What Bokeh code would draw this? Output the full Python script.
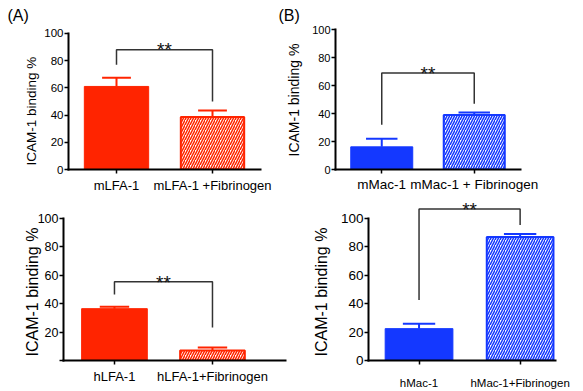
from bokeh.plotting import figure
from bokeh.models import Range1d, FixedTicker, Title
from bokeh.layouts import column, row
from bokeh.embed import file_html
from bokeh.resources import INLINE
from bokeh.core.properties import value

RED = "#ff2400"
BLUE = "#1438ff"
FONT = "Liberation Sans"

y_ticks = [0, 20, 40, 60, 80, 100]
x_pos = [0.5, 1.5]

# Panel A (top-left)
A_labels = ["mLFA-1", "mLFA-1 +Fibrinogen"]
A_values = [61.0, 38.5]
A_err = [67.3, 43.3]
A_bracket = [77.0, 88.0, 50.0]   # left leg bottom, top, right leg bottom

# Panel B (top-right)
B_labels = ["mMac-1", "mMac-1 + Fibrinogen"]
B_values = [16.2, 38.9]
B_err = [22.0, 40.8]
B_bracket = [32.0, 69.0, 47.0]

# Panel C (bottom-left)
C_labels = ["hLFA-1", "hLFA-1+Fibrinogen"]
C_values = [36.5, 7.0]
C_err = [37.8, 9.2]
C_bracket = [46.5, 55.4, 23.3]

# Panel D (bottom-right)
D_labels = ["hMac-1", "hMac-1+Fibrinogen"]
D_values = [22.4, 86.8]
D_err = [25.9, 88.9]
D_bracket = [42.5, 106.5, 95.3]

y_title = "ICAM-1 binding %"


def panel(labels, vals, errs, bracket, color, cfg):
    p = figure(width=cfg["w"], height=cfg["h"],
               x_range=Range1d(*cfg["xr"]), y_range=Range1d(0, cfg["ymax"]),
               output_backend="svg", toolbar_location=None,
               min_border_left=cfg["bl"], min_border_right=cfg["br"],
               min_border_top=cfg["bt"], min_border_bottom=cfg["bb"])
    p.xgrid.visible = False
    p.ygrid.visible = False
    p.outline_line_color = None
    p.background_fill_color = "white"
    p.border_fill_color = "white"

    bw = 0.67
    # solid bar
    p.vbar(x=[x_pos[0]], top=[vals[0]], bottom=0, width=bw,
           fill_color=color, line_color=color, line_width=1)
    # hatched bar
    p.vbar(x=[x_pos[1]], top=[vals[1]], bottom=0, width=bw - 0.01,
           fill_color="white", line_color=color, line_width=2,
           hatch_pattern="/", hatch_color=color, hatch_scale=5, hatch_weight=1.5)
    # error bars (upper only)
    cap = cfg.get("cap", 0.16)
    p.segment(x0=x_pos, y0=vals, x1=x_pos, y1=errs, line_color=color, line_width=2)
    p.segment(x0=[x - cap for x in x_pos], y0=errs, x1=[x + cap for x in x_pos], y1=errs,
              line_color=color, line_width=2)
    # significance bracket
    p.line(x=[x_pos[0], x_pos[0], x_pos[1], x_pos[1]],
           y=[bracket[0], bracket[1], bracket[1], bracket[2]],
           line_color="#333333", line_width=1.5)
    p.text(x=[(x_pos[0] + x_pos[1]) / 2], y=[bracket[1]], text=["**"],
           text_font=value(FONT), text_font_size="19px", text_align="center",
           text_baseline="middle", text_color="#111111",
           y_offset=cfg.get("star_dy", 0))

    # axes
    ya = p.yaxis[0]
    ya.ticker = FixedTicker(ticks=y_ticks)
    ya.bounds = (0, 100)
    ya.axis_line_width = 2
    ya.axis_line_cap = "square"
    ya.major_tick_in = 0
    ya.major_tick_out = 4
    ya.major_tick_line_width = 1.5
    ya.minor_tick_line_color = None
    ya.major_label_standoff = 1
    ya.major_label_text_font = FONT
    ya.major_label_text_font_size = cfg["yfs"]
    ya.major_label_text_color = "black"
    if cfg.get("hide0"):
        ya.major_label_overrides = {0: ""}

    xa = p.xaxis[0]
    xa.ticker = FixedTicker(ticks=x_pos)
    xa.major_label_overrides = {x_pos[0]: labels[0], x_pos[1]: labels[1]}
    xa.axis_line_width = 2
    xa.axis_line_cap = "square"
    xa.major_tick_in = 0
    xa.major_tick_out = 4
    xa.major_tick_line_width = 1.5
    xa.minor_tick_line_color = None
    xa.major_label_standoff = cfg["xstand"]
    xa.major_label_text_font = FONT
    xa.major_label_text_font_size = cfg["xfs"]
    xa.major_label_text_color = "black"

    # y axis title (left side, outside the tick labels)
    p.add_layout(Title(text=y_title, align="left", offset=cfg["toff"],
                       standoff=cfg["tst"], vertical_align="bottom",
                       text_font=FONT, text_font_size=cfg["tfs"],
                       text_font_style="normal", text_color="black"), "left")
    if cfg.get("tag"):
        p.add_layout(Title(text=cfg["tag"], align="left", offset=cfg["tagoff"],
                           standoff=2, vertical_align="bottom",
                           text_font=FONT, text_font_size="16px",
                           text_font_style="normal", text_color="black"), "above")
    return p


pA = panel(A_labels, A_values, A_err, A_bracket, RED,
           dict(w=275, h=195, xr=(0, 2), ymax=106.5, bl=68, br=15, bt=24, bb=23,
                yfs="11.5px", xfs="13px", xstand=4, tfs="13.5px", toff=4, tst=6,
                tag="(A)", tagoff=-61, cap=0.15))
pB = panel(B_labels, B_values, B_err, B_bracket, BLUE,
           dict(w=308, h=195, xr=(0, 2), ymax=103.7, bl=57, br=63, bt=24, bb=22,
                yfs="11px", xfs="13.5px", xstand=3, tfs="14px", toff=13, tst=16,
                tag="(B)", tagoff=-57, cap=0.17))
pC = panel(C_labels, C_values, C_err, C_bracket, RED,
           dict(w=290, h=196, xr=(-0.02, 2.245), ymax=116.2, bl=63, br=5, bt=0, bb=29,
                yfs="12.5px", xfs="13px", xstand=4, tfs="16px", toff=4, tst=-12,
                hide0=True, cap=0.15, star_dy=1))
pD = panel(D_labels, D_values, D_err, D_bracket, BLUE,
           dict(w=293, h=196, xr=(0, 1.85), ymax=116.0, bl=78, br=28, bt=0, bb=29,
                yfs="13.5px", xfs="11.5px", xstand=12, tfs="16px", toff=4, tst=16,
                cap=0.16))

layout = column(row(pA, pB), row(pC, pD))
open("out.html", "w").write(file_html(layout, INLINE))
